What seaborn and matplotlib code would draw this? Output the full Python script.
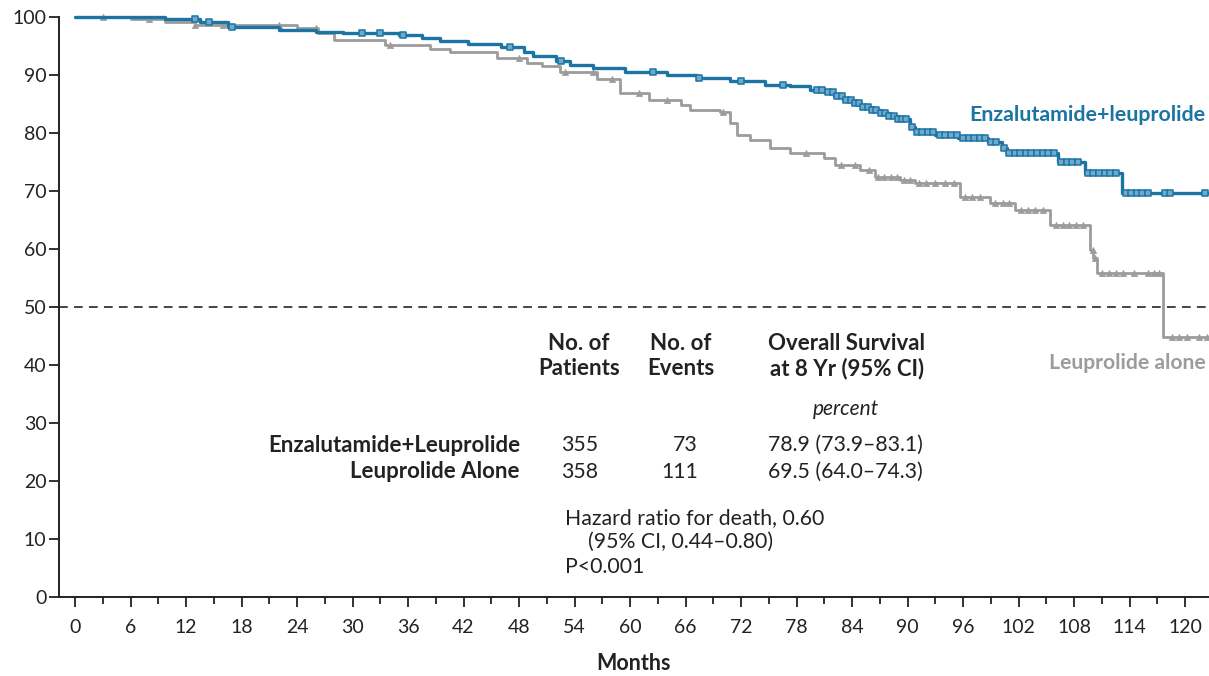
import numpy as np
import pandas as pd
import matplotlib
matplotlib.use("Agg")
import matplotlib.pyplot as plt
import seaborn as sns

# Kaplan-Meier step curves: event times (months) and survival (%)
enza_t = [0, 9.7, 13.5, 16.5, 22, 26, 29, 35, 37.5, 39.5, 42.5, 46, 48.5, 49.5, 52,
          53.5, 56, 59.5, 64, 67.2, 70.8, 74.6, 77.3, 79.5, 81, 82, 83, 84, 85, 86,
          87, 88, 89, 90.3, 90.8, 93, 95.5, 98.7, 100.2, 100.8, 106.3, 109.2, 113.2]
enza_s = [100, 99.6, 99.1, 98.2, 97.8, 97.5, 97.2, 96.9, 96.4, 95.9, 95.4, 94.8, 94.0,
          93.2, 92.4, 91.7, 91.2, 90.5, 90.0, 89.5, 89.0, 88.3, 88.1, 87.4, 87.0, 86.4,
          85.7, 85.1, 84.5, 84.0, 83.5, 83.0, 82.4, 81.0, 80.2, 79.7, 79.1, 78.4, 77.4,
          76.6, 75.0, 73.1, 69.7]

leup_t = [0, 6, 9.7, 13, 24, 26.3, 28, 33.5, 38.4, 40.5, 45.6, 48.9, 50.5, 52.4, 56.4,
          58.9, 62, 65.5, 66.5, 69.7, 70.8, 71.6, 73, 75.1, 77.3, 81, 82.2, 84.9, 86.5,
          89.2, 90.8, 95.7, 98.9, 101.6, 105.4, 109.7, 110.1, 110.5, 117.6]
leup_s = [100, 99.7, 99.1, 98.6, 98.1, 97.2, 96.0, 95.2, 94.5, 93.9, 92.9, 92.0, 91.5,
          90.5, 89.3, 86.9, 85.7, 84.8, 84.0, 83.6, 81.7, 79.7, 78.8, 77.4, 76.5, 75.7,
          74.5, 73.6, 72.4, 71.9, 71.3, 69.0, 67.9, 66.7, 64.1, 59.8, 58.4, 55.8, 44.8]

follow_up_end = 122.6

# Censoring times (months)
enza_cens = [13, 14.5, 17, 31, 33, 35.5, 47, 52.5, 62.5, 67.5, 72, 76.5,
             80.2, 80.8, 81.4, 81.9, 82.4, 82.9, 83.4, 83.9, 84.3, 84.8, 85.2, 85.7,
             86.2, 86.6, 87.1, 87.6, 88.0, 88.5, 89.0, 89.4, 89.8, 90.5, 91.0, 91.6,
             92.2, 92.8, 93.5, 94.1, 94.7, 95.3, 96.0, 96.6, 97.2, 97.8, 98.4, 99.0,
             99.6, 100.4, 101.0, 101.6, 102.2, 102.8, 103.4, 104.0, 104.6, 105.2,
             105.8, 106.6, 107.2, 107.8, 108.4, 109.5, 110.1, 110.7, 111.3, 111.9,
             112.5, 113.6, 114.2, 114.8, 115.4, 116.0, 117.8, 118.4, 122.2]
leup_cens = [3, 8, 13, 16, 22, 26, 34, 48, 53, 56, 58, 61, 64, 70, 79, 82.8,
             84.3, 85.8, 86.8, 87.5, 88.2, 88.9, 89.6, 90.3, 91.2, 92.0, 93.0, 94.0,
             95.0, 96.2, 97.0, 97.8, 99.5, 100.3, 101.0, 102.3, 103.0, 103.8, 104.6,
             106.0, 106.8, 107.5, 108.2, 109.0, 110.0, 110.3, 111.0, 111.8, 112.5,
             113.3, 114.5, 116.0, 116.6, 117.2, 118.6, 119.4, 120.2, 121.5, 122.4]

xticks_major = list(range(0, 121, 6))
xticks_minor = list(range(3, 121, 6))
yticks = list(range(0, 101, 10))

table_groups = ["Enzalutamide+Leuprolide", "Leuprolide Alone"]
table_patients = ["355", "358"]
table_events = ["73", "111"]
table_os = ["78.9 (73.9\u201383.1)", "69.5 (64.0\u201374.3)"]

BLUE = "#1c74a3"
BLUE_FILL = "#6fa9cd"
GRAY = "#9c9c9c"
TXT = "#222222"

sns.set_theme(style="ticks")
plt.rcParams["font.family"] = ["Lato", "DejaVu Sans"]


def curve_frame(t, s, name):
    tt = list(t) + [follow_up_end]
    ss = list(s) + [s[-1]]
    return pd.DataFrame({"month": tt, "surv": ss, "arm": name})


def level_at(t, s, times):
    idx = np.searchsorted(np.asarray(t), np.asarray(times), side="right") - 1
    return np.asarray(s)[idx]


curves = pd.concat([curve_frame(enza_t, enza_s, "enza"),
                    curve_frame(leup_t, leup_s, "leup")], ignore_index=True)

W, H = 1209, 676
fig = plt.figure(figsize=(W / 100, H / 100), dpi=100)
ax = fig.add_axes([59 / W, 79 / H, (W - 59) / W, 580 / H])

sns.lineplot(data=curves[curves.arm == "leup"], x="month", y="surv", ax=ax,
             color=GRAY, lw=2.0, drawstyle="steps-post", estimator=None, sort=False,
             clip_on=False, zorder=3)
sns.lineplot(data=curves[curves.arm == "enza"], x="month", y="surv", ax=ax,
             color=BLUE, lw=2.4, drawstyle="steps-post", estimator=None, sort=False,
             clip_on=False, zorder=4)

leup_marks = pd.DataFrame({"month": leup_cens,
                           "surv": level_at(leup_t, leup_s, leup_cens)})
enza_marks = pd.DataFrame({"month": enza_cens,
                           "surv": level_at(enza_t, enza_s, enza_cens)})
sns.scatterplot(data=leup_marks, x="month", y="surv", ax=ax, marker="^", s=20,
                color=GRAY, edgecolor=GRAY, linewidth=0.5, zorder=3, clip_on=False)
sns.scatterplot(data=enza_marks, x="month", y="surv", ax=ax, marker="s", s=17,
                facecolor=BLUE_FILL, edgecolor=BLUE, linewidth=1.1, zorder=5,
                clip_on=False)

# median reference line
ax.axhline(50, color="#444444", lw=1.4, ls=(0, (4.5, 3.2)), zorder=2)

ax.set_xlim((59 - 75) / 9.25, (W - 75) / 9.25)
ax.set_ylim(0, 100)
ax.set_xticks(xticks_major)
ax.set_xticks(xticks_minor, minor=True)
ax.set_yticks(yticks)
ax.tick_params(axis="both", which="major", labelsize=14, colors=TXT, width=1.3,
               length=7, labelcolor=TXT)
ax.tick_params(axis="x", which="minor", width=1.3, length=4.8, colors=TXT)
ax.tick_params(axis="x", pad=9)
ax.tick_params(axis="y", pad=2)
for side in ("top", "right"):
    ax.spines[side].set_visible(False)
for side in ("left", "bottom"):
    ax.spines[side].set_linewidth(1.4)
    ax.spines[side].set_color(TXT)
ax.set_xlabel("Months", fontsize=15.5, fontweight="bold", color=TXT, labelpad=12)
ax.set_ylabel("")

# curve labels
ax.text(122.2, 83.1, "Enzalutamide+leuprolide", ha="right", va="center",
        fontsize=15.4, fontweight="bold", color=BLUE)
ax.text(122.2, 40.3, "Leuprolide alone", ha="right", va="center",
        fontsize=15.2, fontweight="bold", color=GRAY)


def mx(px):
    return (px - 75) / 9.25


def vy(py):
    return (597 - py) / 5.8


hdr = dict(fontsize=16, fontweight="bold", color=TXT, va="center", ha="center",
           linespacing=1.2)
ax.text(mx(579), vy(356), "No. of\nPatients", **hdr)
ax.text(mx(681), vy(356), "No. of\nEvents", **hdr)
ax.text(mx(847), vy(356), "Overall Survival\nat 8 Yr (95% CI)", **hdr)
ax.text(mx(846), vy(409), "percent", fontsize=15, style="italic", color=TXT,
        ha="center", va="center")

for i, (g, n, e, o) in enumerate(zip(table_groups, table_patients, table_events,
                                     table_os)):
    y = vy(445 + 27 * i)
    ax.text(mx(520), y, g, ha="right", va="center", fontsize=16,
            fontweight="bold", color=TXT)
    ax.text(mx(580), y, n, ha="center", va="center", fontsize=15.3, color=TXT)
    ax.text(mx(698), y, e, ha="right", va="center", fontsize=15.3, color=TXT)
    ax.text(mx(768), y, o, ha="left", va="center", fontsize=15.3, color=TXT)

ax.text(mx(565), vy(518), "Hazard ratio for death, 0.60", ha="left", va="center",
        fontsize=15.3, color=TXT)
ax.text(mx(588), vy(542), "(95% CI, 0.44\u20130.80)", ha="left", va="center",
        fontsize=15.3, color=TXT)
ax.text(mx(565), vy(567), "P<0.001", ha="left", va="center", fontsize=15.3,
        color=TXT)

fig.savefig("out.png", dpi=100)
